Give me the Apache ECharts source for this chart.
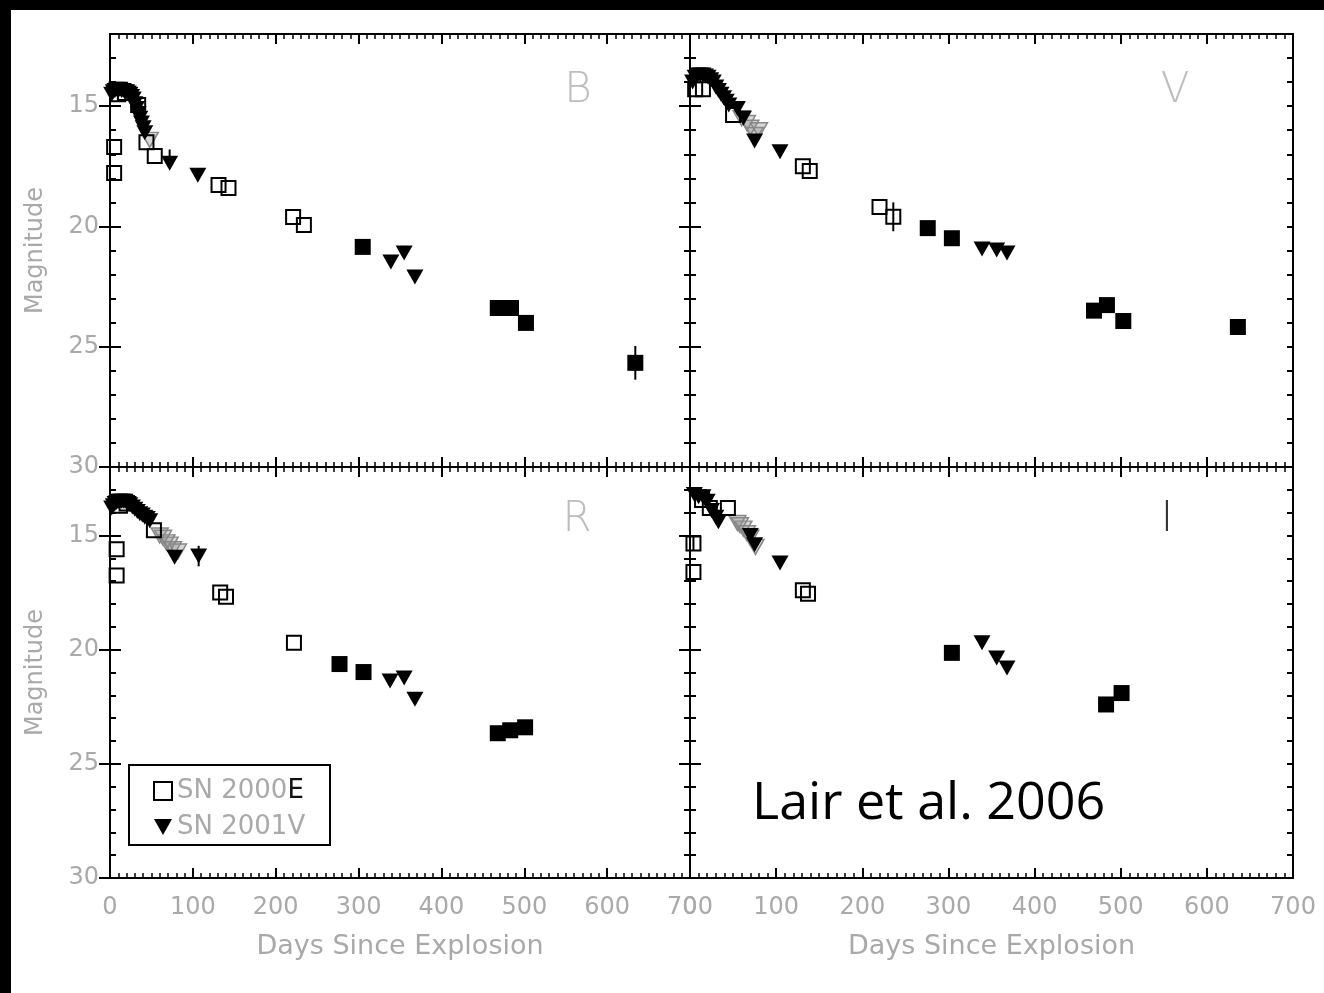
<!DOCTYPE html>
<html><head><meta charset="utf-8">
<script src="https://cdn.jsdelivr.net/npm/echarts@6/dist/echarts.min.js"></script>
<style>html,body{margin:0;padding:0;background:#fff}#c{width:1324px;height:993px}</style>
</head><body><div id="c"></div>
<script>
// ---------- tick labels / names ----------
const PANEL_LABELS = ['B', 'V', 'R', 'I'];
const X_TICKS = [0, 100, 200, 300, 400, 500, 600, 700];
const Y_TICKS = [15, 20, 25, 30];
const LEGEND_NAMES = ['SN 2000E', 'SN 2001V'];
const X_NAME = 'Days Since Explosion';
const Y_NAME = 'Magnitude';
const CREDIT = 'Lair et al. 2006';

// ---------- data: [day, magnitude] ----------
// B band
const B_open = [[5,16.7],[5,17.78],[10,14.5],[18,14.45],[34,14.95],[44,16.5],[54,17.07],[131,18.28],[143,18.4],[221,19.61],[234,19.94]];
const B_filled = [[305,20.85],[468,23.39],[484,23.39],[502,24.01],[634,25.67]];
const B_tri = [[2,14.5],[4,14.4],[6,14.35],[8,14.3],[10,14.35],[12,14.3],[14,14.35],[16,14.35],[18,14.4],[20,14.4],[22,14.45],[24,14.5],[26,14.6],[28,14.7],[30,14.9],[32,15.1],[34,15.3],[36,15.5],[38,15.7],[40,15.9],[42,16.1],[72,17.37],[106,17.87],[339,21.48],[355,21.1],[368,22.1]];
const B_gray = [[48,16.4]];
const B_err = [[72,17.1,0.3],[634,25.67,0.7]];
// V band
const V_open = [[6,14.3],[15,14.3],[50,15.37],[131,17.5],[139,17.7],[220,19.19],[236,19.6]];
const V_filled = [[276,20.07],[304,20.49],[469,23.5],[484,23.27],[503,23.93],[636,24.18]];
const V_tri = [[3,14.0],[6,13.8],[9,13.7],[12,13.7],[15,13.7],[18,13.75],[21,13.8],[24,13.9],[27,14.0],[30,14.2],[33,14.35],[36,14.5],[39,14.65],[42,14.8],[45,14.95],[55,15.1],[62,15.5],[75,16.45],[104.5,16.9],[339,20.94],[356,20.98],[368,21.1]];
const V_gray = [[60,15.5],[66,15.7],[70,15.9],[75,16.2],[80,16.0]];
const V_err = [[236,19.6,0.6]];
// R band
const R_open = [[8,15.6],[8,16.75],[12,13.7],[20,13.6],[53,14.77],[133,17.5],[140,17.68],[222,19.7]];
const R_filled = [[277,20.63],[306,20.98],[468,23.66],[483,23.53],[501,23.4]];
const R_tri = [[2,13.8],[4,13.7],[6,13.6],[8,13.55],[10,13.5],[12,13.5],[14,13.5],[16,13.5],[18,13.5],[20,13.55],[22,13.6],[24,13.65],[27,13.75],[30,13.85],[33,13.95],[36,14.05],[39,14.1],[42,14.2],[45,14.25],[48,14.35],[78,15.95],[107,15.9],[338,21.37],[355,21.24],[368,22.17]];
const R_gray = [[60,15.0],[64,15.1],[68,15.3],[72,15.4],[76,15.6],[82,15.7]];
const R_err = [[107,15.9,0.45]];
// I band
const I_open = [[4,15.35],[4,16.6],[14,13.45],[23,13.8],[44,13.8],[131,17.4],[137,17.55]];
const I_filled = [[304,20.14],[483,22.4],[501,21.9]];
const I_tri = [[5,13.2],[10,13.3],[15,13.3],[20,13.5],[25,13.9],[30,14.2],[33,14.4],[70,15.0],[75,15.4],[104.5,16.2],[339,19.7],[356,20.36],[368,20.8]];
const I_gray = [[55,14.45],[58,14.55],[62,14.7],[66,14.9],[70,15.1],[76,15.5]];
const I_err = [[4,15.35,0.3]];

// ---------- build ----------
const PANELS = [
  {open:B_open, filled:B_filled, tri:B_tri, gray:B_gray, err:B_err},
  {open:V_open, filled:V_filled, tri:V_tri, gray:V_gray, err:V_err},
  {open:R_open, filled:R_filled, tri:R_tri, gray:R_gray, err:R_err},
  {open:I_open, filled:I_filled, tri:I_tri, gray:I_gray, err:I_err}
];
const GRIDS = [
  {left:110, top:34, width:580, height:433},
  {left:690, top:34, width:603, height:433},
  {left:110, top:467, width:580, height:411},
  {left:690, top:467, width:603, height:411}
];
const LABEL_GRAY = '#a9a9a9';
const FONT = 'DejaVu Sans';
const TRI = 'path://M0,0L20,0L10,18Z';

const xAxis = [], yAxis = [], series = [];
GRIDS.forEach((g, i) => {
  const isBottom = i >= 2, isLeft = i % 2 === 0;
  ['bottom','top'].forEach(pos => {
    xAxis.push({
      type:'value', gridIndex:i, position:pos, min:0, max:700, interval:100,
      axisLine:{show:true, onZero:false, lineStyle:{color:'#000', width:2}},
      axisTick:{show:true, inside:true, length:10, lineStyle:{color:'#000', width:2}},
      minorTick:{show:true, splitNumber:10, length:5, lineStyle:{color:'#000', width:1.5}},
      splitLine:{show:false},
      axisLabel:{show: pos==='bottom' && isBottom, margin:18, color:LABEL_GRAY, fontSize:24, fontFamily:FONT,
        formatter: v => X_TICKS.includes(v) ? String(v) : ''},
      name: (pos==='bottom' && isBottom) ? X_NAME : '',
      nameLocation:'middle', nameGap:55,
      nameTextStyle:{color:LABEL_GRAY, fontSize:27, fontFamily:FONT}
    });
  });
  ['left','right'].forEach(pos => {
    yAxis.push({
      type:'value', gridIndex:i, position:pos, min:12, max:30, interval:1, inverse:true,
      axisLine:{show:true, onZero:false, lineStyle:{color:'#000', width:2}},
      axisTick:{show:true, inside:true, length:6, lineStyle:{color:'#000', width:2}},
      splitLine:{show:false},
      axisLabel:{show: pos==='left' && isLeft, margin:11, color:LABEL_GRAY, fontSize:24, fontFamily:FONT,
        formatter: v => Y_TICKS.includes(v) ? String(v) : ''},
      name: (pos==='left' && isLeft) ? Y_NAME : '',
      nameLocation:'middle', nameGap:62, nameRotate:90,
      nameTextStyle:{color:LABEL_GRAY, fontSize:24, fontFamily:FONT}
    });
    yAxis.push({
      type:'value', gridIndex:i, position:pos, min:12, max:30, inverse:true,
      axisLine:{show:false},
      axisTick:{show:true, inside:true, length:11, customValues:Y_TICKS, lineStyle:{color:'#000', width:2}},
      splitLine:{show:false}, axisLabel:{show:false}
    });
  });
  const xi = 2*i, yi = 4*i;
  const p = PANELS[i];
  series.push({
    type:'scatter', name:'SN 2001V gray', xAxisIndex:xi, yAxisIndex:yi, data:p.gray,
    symbol:TRI, symbolSize:[17,15], itemStyle:{color:'rgba(140,140,140,0.35)', borderColor:'#888', borderWidth:1.5, opacity:1}, z:2
  });
  series.push({
    type:'scatter', name:'SN 2001V', xAxisIndex:xi, yAxisIndex:yi, data:p.tri,
    symbol:TRI, symbolSize:[17,15], itemStyle:{color:'#000', opacity:1}, z:3
  });
  series.push({
    type:'scatter', name:'SN 2000E', xAxisIndex:xi, yAxisIndex:yi, data:p.open,
    symbol:'rect', symbolSize:14, itemStyle:{color:'rgba(0,0,0,0)', borderColor:'#000', borderWidth:2, opacity:1}, z:4
  });
  series.push({
    type:'scatter', name:'SN 2000E late', xAxisIndex:xi, yAxisIndex:yi, data:p.filled,
    symbol:'rect', symbolSize:16, itemStyle:{color:'#000', opacity:1}, z:4
  });
  series.push({
    type:'custom', name:'err'+i, xAxisIndex:xi, yAxisIndex:yi, data:p.err, z:5,
    renderItem:(params, api) => {
      const x = api.value(0), y = api.value(1), e = api.value(2);
      const a = api.coord([x, y - e]), b = api.coord([x, y + e]);
      return {type:'line', shape:{x1:a[0], y1:a[1], x2:b[0], y2:b[1]}, style:{stroke:'#000', lineWidth:2}};
    }
  });
});

const LETTER_POS = [[578,91,'#bdbdbd'],[1175,91,'#bdbdbd'],[577,520,'#bdbdbd'],[1167,520,'#333']];
const graphic = [
  {type:'rect', left:0, top:0, shape:{width:1324, height:10}, style:{fill:'#000'}, z:100},
  {type:'rect', left:0, top:0, shape:{width:11, height:993}, style:{fill:'#000'}, z:100},
  {type:'rect', shape:{x:129, y:765, width:201, height:80}, style:{fill:'rgba(0,0,0,0)', stroke:'#000', lineWidth:2}, z:10},
  {type:'text', x:752, y:804, style:{text:CREDIT, fill:'#000', font:'400 52px "Open Sans"', textVerticalAlign:'middle'}, z:10}
];
PANEL_LABELS.forEach((t, i) => {
  graphic.push({type:'text', x:LETTER_POS[i][0], y:LETTER_POS[i][1], z:10,
    style:{text:t, fill:LETTER_POS[i][2], font:'200 42px "DejaVu Sans"', textAlign:'center', textVerticalAlign:'middle'}});
});

const option = {
  backgroundColor:'#fff',
  animation:false,
  grid: GRIDS.map(g => Object.assign({containLabel:false}, g)),
  xAxis, yAxis, series, graphic,
  legend:{
    left:153, top:778, orient:'vertical', itemGap:10, itemWidth:18, itemHeight:18, padding:0,
    data:[
      {name:'SN 2000E', icon:'rect', itemStyle:{color:'rgba(0,0,0,0)', borderColor:'#000', borderWidth:2}},
      {name:'SN 2001V', icon:TRI, itemStyle:{color:'#000'}}
    ],
    selectedMode:false,
    formatter: n => n === 'SN 2000E' ? '{g|SN 2000}{k|E}' : '{g|' + n + '}',
    textStyle:{fontSize:26, fontFamily:FONT, color:LABEL_GRAY,
      rich:{g:{fontSize:26, fontFamily:FONT, color:LABEL_GRAY}, k:{fontSize:26, fontFamily:FONT, color:'#111'}}}
  }
};
const chart = echarts.init(document.getElementById('c'), null, {renderer:'canvas'});
chart.setOption(option);
</script></body></html>
